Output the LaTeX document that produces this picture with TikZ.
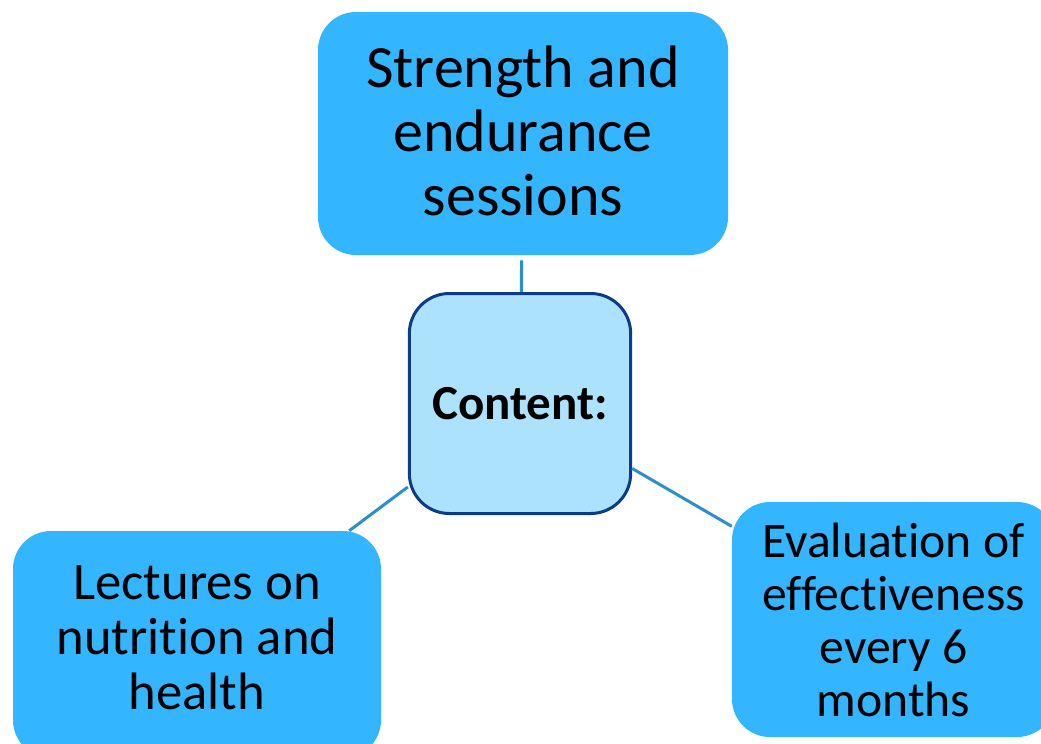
\documentclass[tikz,border=0pt]{standalone}
\usepackage{fontspec}
\setmainfont{Carlito}[Ligatures=CommonOff]
\begin{document}
\begin{tikzpicture}[x=0.75pt,y=-0.75pt,
  topic/.style={draw=none,fill=topicblue,rounded corners=28.5pt,align=center,inner sep=0pt},
  hub/.style={draw=hubborder,line width=2.25pt,fill=hubfill,rounded corners=30pt,inner sep=0pt,
    minimum width=166pt,minimum height=165pt,font=\fontsize{36.75pt}{40pt}\selectfont\bfseries},
  link/.style={draw=linkblue,line width=2.25pt}]
\definecolor{topicblue}{HTML}{33B5FF}
\definecolor{hubfill}{HTML}{ADE2FC}
\definecolor{hubborder}{HTML}{0B3C8A}
\definecolor{linkblue}{HTML}{2B8FCC}
\useasboundingbox (0,0) rectangle (1041,743);
\clip (0,0) rectangle (1041,743);

% central hub
\node[hub] (content) at (520,403.5) {Content:};

% surrounding topics
\node[topic,minimum width=307.5pt,minimum height=182.25pt] (strength) at (523,133.5) {};
\node[align=center,inner sep=0pt,font=\fontsize{45pt}{48pt}\selectfont]
  (strengthtext) at ([yshift=2pt]strength.center)
  {Strength and\\endurance\\sessions};
\node[topic,minimum width=276pt,minimum height=170.25pt] (lectures) at (197,644.5) {};
\node[align=center,inner sep=0pt,font=\fontsize{39.5pt}{41.25pt}\selectfont]
  (lecturestext) at ([yshift=5.25pt]lectures.center)
  {Lectures on\\nutrition and\\health};
\node[topic,minimum width=242.25pt,minimum height=176.25pt,
  font=\fontsize{37.25pt}{39.75pt}\selectfont] (evaluation) at (893.5,619.5)
  {Evaluation of\\effectiveness\\every 6\\months};

% connectors
\draw[link,shorten >=3.75pt] (content) -- (strength);
\draw[link] (content) -- (lectures);
\draw[link] (content) -- (evaluation);
\end{tikzpicture}
\end{document}
